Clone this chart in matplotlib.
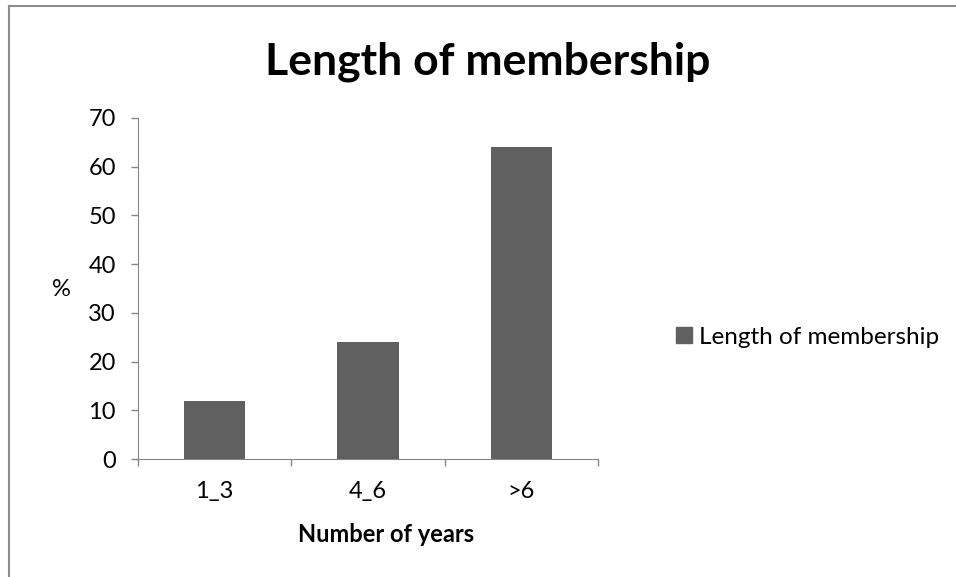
import matplotlib.pyplot as plt
from matplotlib.lines import Line2D
from matplotlib.patches import Patch
import numpy as np

# chart data
categories = ["1_3", "4_6", ">6"]
percent = [12, 24, 64]
series_name = "Length of membership"

plt.rcParams['font.family'] = ['Lato', 'DejaVu Sans']

W, H = 956, 577
fig = plt.figure(figsize=(W / 100, H / 100), dpi=100)

# axes placed in pixel coords (left, bottom, width, height)
ax_l, ax_r, ax_t, ax_b = 138, 598, 118, 459
ax = fig.add_axes([ax_l / W, 1 - ax_b / H, (ax_r - ax_l) / W, (ax_b - ax_t) / H])

x = np.arange(len(categories))
ax.bar(x, percent, width=0.4, color="#606060", label=series_name)

ax.set_xlim(-0.5, len(categories) - 0.5)
ax.set_ylim(0, 70)
ax.set_yticks(range(0, 71, 10))

# category labels centered, tick marks on the boundaries
ax.set_xticks(x)
ax.set_xticklabels(categories, fontsize=17)
ax.tick_params(axis="x", length=0, pad=16)
ax.set_xticks(np.arange(-0.5, len(categories), 1), minor=True)
ax.tick_params(axis="x", which="minor", length=5, color="#868686", width=1)
ax.tick_params(axis="y", length=5, color="#868686", width=1, labelsize=17, pad=11)

for side in ["top", "right"]:
    ax.spines[side].set_visible(False)
for side in ["left", "bottom"]:
    ax.spines[side].set_color("#868686")

fig.text(488 / W, 1 - 62 / H, "Length of membership", ha="center", va="center",
         fontsize=32, fontweight="bold")
fig.text(386 / W, 1 - 535 / H, "Number of years", ha="center", va="center",
         fontsize=17, fontweight="bold")
fig.text(61 / W, 1 - 290 / H, "%", ha="center", va="center", fontsize=17)

# legend as separate entry to the right
fig.legend(handles=[Patch(color="#606060", label=series_name)],
           loc="center left", bbox_to_anchor=(676 / W, 1 - 337 / H),
           frameon=False, fontsize=17.5, handlelength=0.65, handleheight=0.65,
           handletextpad=0.3, borderaxespad=0, borderpad=0)

# outer chart border (top and left visible in the crop)
fig.add_artist(Line2D([9 / W, 9 / W], [0, 1 - 6 / H], color="#8c8c8c", lw=1.5))
fig.add_artist(Line2D([9 / W, 1], [1 - 6 / H, 1 - 6 / H], color="#8c8c8c", lw=1.5))

fig.savefig("out.png", dpi=100)
